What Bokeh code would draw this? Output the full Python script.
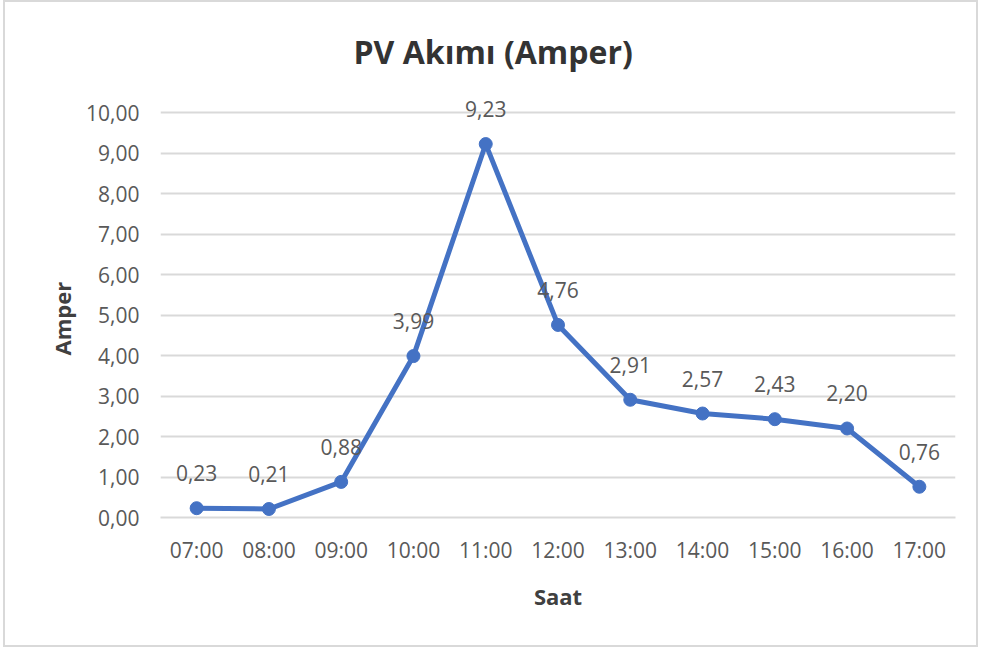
from bokeh.plotting import figure
from bokeh.models import (Range1d, FixedTicker, CustomJSTickFormatter,
                          ColumnDataSource, Title, LabelSet)
from bokeh.core.properties import value
from bokeh.embed import file_html
from bokeh.resources import INLINE

# Hourly PV current readings
hours = ["07:00", "08:00", "09:00", "10:00", "11:00", "12:00",
         "13:00", "14:00", "15:00", "16:00", "17:00"]
current = [0.23, 0.21, 0.88, 3.99, 9.23, 4.76, 2.91, 2.57, 2.43, 2.20, 0.76]
y_ticks = [0, 1, 2, 3, 4, 5, 6, 7, 8, 9, 10]

FONT = "Open Sans"
TEXT = "#595959"
GRID = "#d9d9d9"
BLUE = "#4472C4"

labels = [f"{v:.2f}".replace(".", ",") for v in current]
src = ColumnDataSource(dict(hour=hours, amp=current, lab=labels))

# Range extends a little above the last gridline so the peak label has room
p = figure(
    x_range=hours, y_range=Range1d(0, 10.9),
    width=975, height=647,
    output_backend="svg", toolbar_location=None,
    min_border_left=155, min_border_right=25,
    min_border_top=74, min_border_bottom=132,
    background_fill_color="white", border_fill_color="white",
    styles={"border": "2px solid #d9d9d9", "margin-left": "3px"},
)
p.outline_line_color = None

title = Title(text="PV Akımı (Amper)", align="left", offset=193,
              text_font=FONT, text_font_size="32px", text_font_style="bold",
              text_color="#333333", standoff=7)
p.add_layout(title, "above")

# Axes
p.yaxis.ticker = FixedTicker(ticks=y_ticks)
p.yaxis.formatter = CustomJSTickFormatter(code="return tick.toFixed(2).replace('.', ',');")
p.yaxis.axis_line_color = None
p.yaxis.major_tick_line_color = None
p.yaxis.minor_tick_line_color = None
p.yaxis.major_label_standoff = 15

p.xaxis.axis_line_color = GRID
p.xaxis.axis_line_width = 2
p.xaxis.major_tick_line_color = None
p.xaxis.minor_tick_line_color = None
p.xaxis.major_label_standoff = 12
p.xaxis.axis_label = "Saat"
p.xaxis.axis_label_standoff = 14

for ax in (p.xaxis[0], p.yaxis[0]):
    ax.major_label_text_font = FONT
    ax.major_label_text_font_size = "21px"
    ax.major_label_text_color = TEXT
    ax.axis_label_text_font = FONT
    ax.axis_label_text_font_size = "22px"
    ax.axis_label_text_font_style = "bold"
    ax.axis_label_text_color = "#404040"

# Vertical axis title, placed along the gridded 0-10 band
p.add_layout(Title(text="Amper", align="left", offset=162,
                   text_font=FONT, text_font_size="22px", text_font_style="bold",
                   text_color="#404040", standoff=13), "left")

p.xgrid.grid_line_color = None
p.ygrid.grid_line_color = GRID
p.ygrid.grid_line_width = 2

# Series
p.line("hour", "amp", source=src, line_color=BLUE, line_width=5, line_join="round")
p.scatter("hour", "amp", source=src, size=13, fill_color=BLUE, line_color=BLUE)

# Value labels above each point
p.add_layout(LabelSet(x="hour", y="amp", text="lab", source=src,
                      text_font=value(FONT), text_font_size=value("21px"),
                      text_color=TEXT, text_align="center",
                      text_baseline="middle", y_offset=35))

open("out.html", "w").write(file_html(p, INLINE))
